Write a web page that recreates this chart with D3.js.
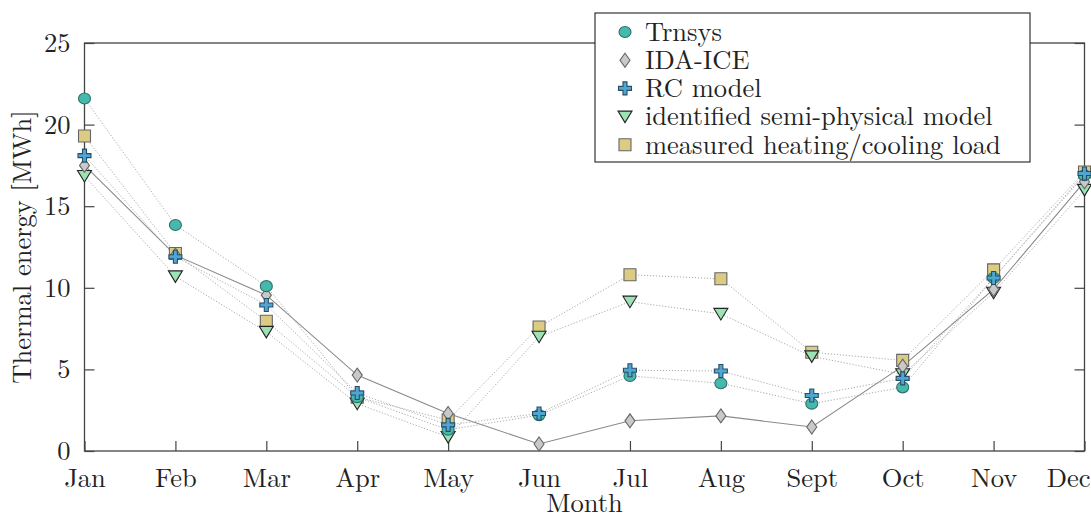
<!DOCTYPE html>
<html lang="en">
<head>
<meta charset="UTF-8">
<title>Thermal energy</title>
<script src="https://d3js.org/d3.v7.min.js"></script>
<style>
  body { margin: 0; background: #fff; }
</style>
</head>
<body>
<div id="chart"></div>
<script>
const months = ["Jan", "Feb", "Mar", "Apr", "May", "Jun", "Jul", "Aug", "Sept", "Oct", "Nov", "Dec"];
const yTicks = [0, 5, 10, 15, 20, 25];

const trnsys   = [21.6, 13.85, 10.1, 3.3, 1.3, 2.2, 4.6, 4.15, 2.9, 3.9, 10.6, 16.9];
const idaIce   = [17.5, 12.0, 9.55, 4.65, 2.3, 0.43, 1.85, 2.15, 1.47, 5.2, 9.9, 16.5];
const rcModel  = [18.1, 11.9, 8.95, 3.55, 1.6, 2.3, 4.95, 4.9, 3.4, 4.45, 10.6, 17.0];
const semiPhys = [16.85, 10.7, 7.3, 2.9, 0.85, 7.0, 9.15, 8.4, 5.8, 4.7, 9.7, 16.0];
const measured = [19.3, 12.1, 7.95, 3.3, 1.9, 7.6, 10.8, 10.55, 6.05, 5.55, 11.1, 17.1];

const FONT = '"Latin Modern Roman", "Liberation Serif", serif';
const FS = "26.5px";
const W = 1091, H = 520;
const m = {left: 84.5, right: 6.5, top: 43, bottom: 69};

const svg = d3.select("#chart").append("svg")
  .attr("width", W).attr("height", H);

const x = d3.scalePoint().domain(months).range([m.left, W - m.right]);
const y = d3.scaleLinear().domain([0, 25]).range([H - m.bottom, m.top]);

// series (drawn bottom to top)
const series = [
  {name: "measured heating/cooling load", vals: measured, shape: "square", fill: "#dccb82", stroke: "#666", line: "dot"},
  {name: "identified semi-physical model", vals: semiPhys, shape: "tri", fill: "#9be3b4", stroke: "#222", line: "dot"},
  {name: "IDA-ICE", vals: idaIce, shape: "diamond", fill: "#c9c9c9", stroke: "#666", line: "solid"},
  {name: "Trnsys", vals: trnsys, shape: "circle", fill: "#47b8ac", stroke: "#2e6f68", line: "dot"},
  {name: "RC model", vals: rcModel, shape: "plus", fill: "#4ea6d2", stroke: "#2a4d66", line: "dot"}
];
const legendOrder = ["Trnsys", "IDA-ICE", "RC model", "identified semi-physical model", "measured heating/cooling load"];

function shapePath(s) {
  switch (s) {
    case "square": return "M-6,-6H6V6H-6Z";
    case "tri": return "M-7,-5.5H7L0,6Z";
    case "diamond": return "M0,-7L5,0L0,7L-5,0Z";
    case "circle": return "M-6,0A6,5.5 0 1,0 6,0A6,5.5 0 1,0 -6,0Z";
    case "plus": return "M-2,-6.5H2V-2H6.5V2H2V6.5H-2V2H-6.5V-2H-2Z";
  }
}

// lines
const line = d3.line().x((d, i) => x(months[i])).y(d => y(d));
svg.append("g").selectAll("path")
  .data(series)
  .join("path")
  .attr("d", d => line(d.vals))
  .attr("fill", "none")
  .attr("stroke", d => d.line === "solid" ? "#8a8a8a" : "#ababab")
  .attr("stroke-width", d => d.line === "solid" ? 1.1 : 1)
  .attr("stroke-dasharray", d => d.line === "solid" ? null : "1.2,1.8");

// frame & axes
svg.append("rect")
  .attr("x", m.left).attr("y", m.top)
  .attr("width", W - m.right - m.left).attr("height", H - m.bottom - m.top)
  .attr("fill", "none").attr("stroke", "#444").attr("stroke-width", 1.3);

function styleTicks(a) {
  a.select(".domain").remove();
  a.selectAll("line").attr("stroke", "#444").attr("stroke-width", 1.2);
  a.selectAll("text").attr("fill", "#222").style("font-family", FONT).style("font-size", FS);
}

const yAxisL = d3.axisLeft(y).tickValues(yTicks).tickSizeInner(-10).tickSizeOuter(0).tickPadding(14);
svg.append("g").attr("transform", `translate(${m.left},0)`).call(yAxisL).call(styleTicks);

const yAxisR = d3.axisRight(y).tickValues(yTicks).tickSizeInner(-10).tickSizeOuter(0).tickFormat("");
svg.append("g").attr("transform", `translate(${W - m.right},0)`).call(yAxisR).call(styleTicks);

const xAxis = d3.axisBottom(x).tickSizeInner(-10).tickSizeOuter(0).tickPadding(17);
svg.append("g").attr("transform", `translate(0,${H - m.bottom})`).call(xAxis).call(styleTicks)
  .call(a => a.selectAll(".tick text").filter(d => d === "Dec")
    .attr("text-anchor", "end").attr("x", W - 1 - x("Dec")));

// markers
series.forEach(s => {
  svg.append("g").selectAll("path")
    .data(s.vals)
    .join("path")
    .attr("transform", (d, i) => `translate(${x(months[i])},${y(d)})`)
    .attr("d", shapePath(s.shape))
    .attr("fill", s.fill)
    .attr("stroke", s.stroke)
    .attr("stroke-width", 1.1);
});

// axis titles
svg.append("text")
  .attr("x", (m.left + W - m.right) / 2).attr("y", 512)
  .attr("text-anchor", "middle").attr("fill", "#222")
  .style("font-family", FONT).style("font-size", FS)
  .text("Month");
svg.append("text")
  .attr("transform", `translate(31,${(m.top + H - m.bottom) / 2}) rotate(-90)`)
  .attr("text-anchor", "middle").attr("fill", "#222")
  .style("font-family", FONT).style("font-size", FS)
  .text("Thermal energy [MWh]");

// legend
const lg = svg.append("g").attr("transform", "translate(595,13)");
lg.append("rect").attr("width", 435).attr("height", 149)
  .attr("fill", "#fff").attr("stroke", "#222").attr("stroke-width", 1.1);
legendOrder.forEach((name, i) => {
  const s = series.find(d => d.name === name);
  const row = lg.append("g").attr("transform", `translate(0,${19 + i * 28.2})`);
  row.append("path").attr("transform", "translate(30,0)")
    .attr("d", shapePath(s.shape))
    .attr("fill", s.fill).attr("stroke", s.stroke).attr("stroke-width", 1.1);
  row.append("text").attr("x", 50).attr("dy", "0.33em").attr("fill", "#222")
    .style("font-family", FONT).style("font-size", FS)
    .text(name);
});
</script>
</body>
</html>
